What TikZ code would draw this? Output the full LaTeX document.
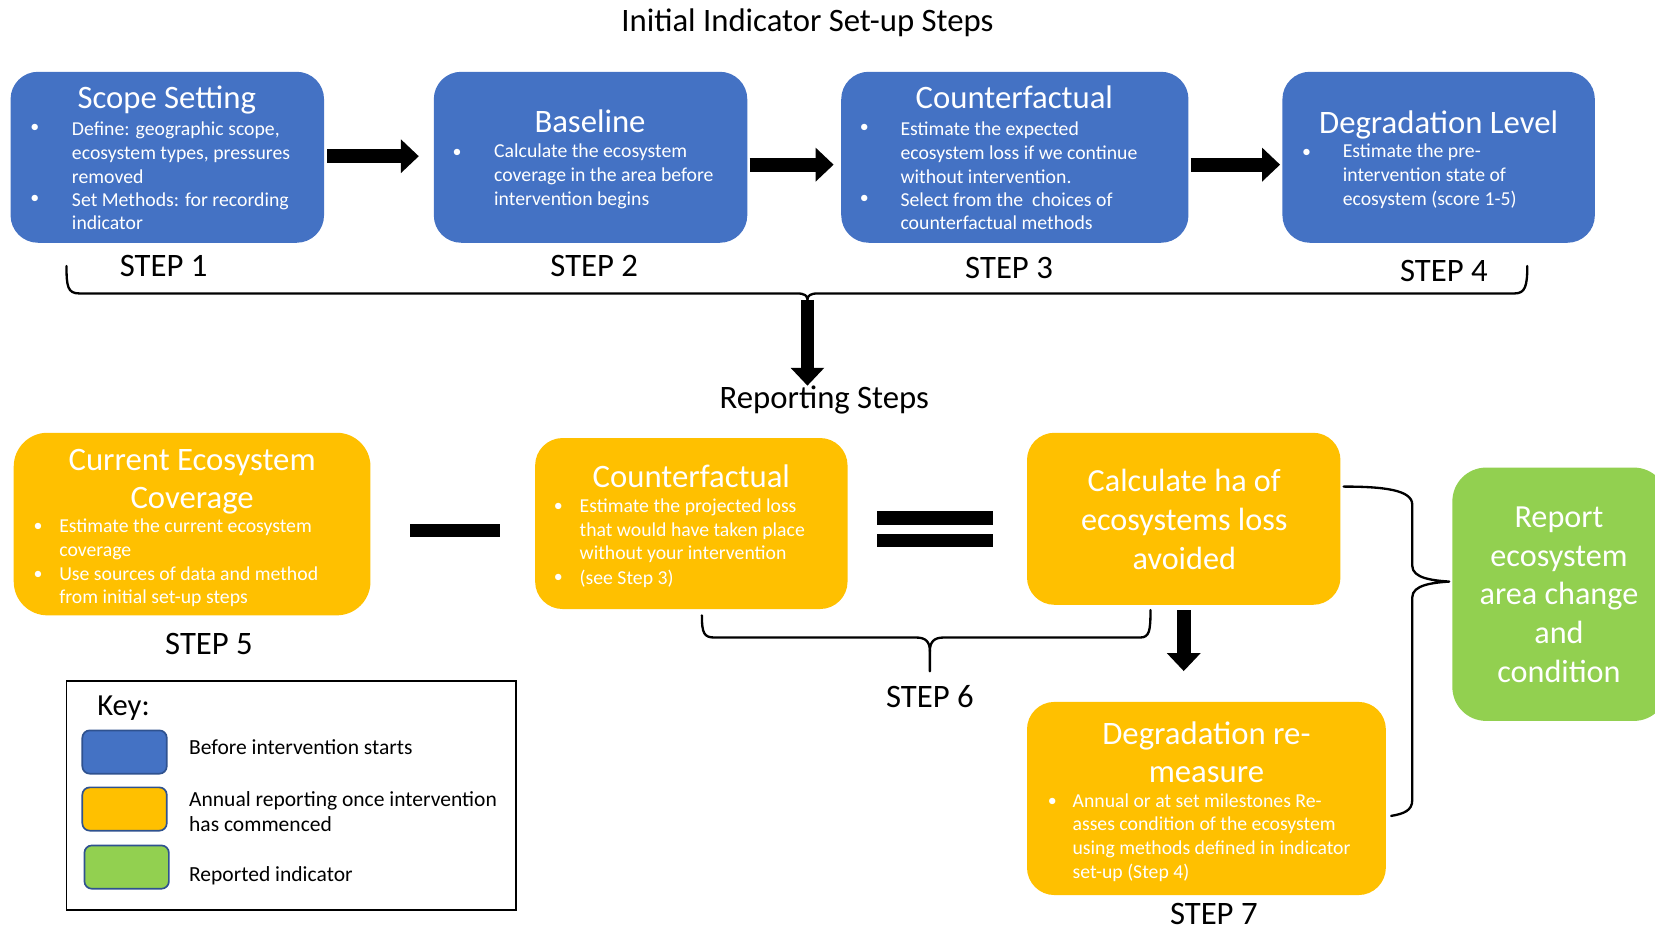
\documentclass[tikz,border=0pt]{standalone}
\usepackage{fontspec}
\setmainfont{Carlito}
\usetikzlibrary{arrows.meta}
\definecolor{cblue}{HTML}{4472C4}
\definecolor{cyellow}{HTML}{FFC000}
\definecolor{cgreen}{HTML}{92D050}
\definecolor{cedge}{HTML}{2F528F}
\tikzset{
  boxbase/.style={rectangle, rounded corners=26pt, inner sep=0pt},
  bluebox/.style={boxbase, fill=cblue},
  yellowbox/.style={boxbase, fill=cyellow},
  greenbox/.style={boxbase, fill=cgreen},
  swatch/.style={rectangle, rounded corners=7pt, draw=cedge, line width=1.6pt, minimum width=80pt, minimum height=41pt, inner sep=0pt},
  ttl/.style={text=white, font=\fontsize{31}{36}\selectfont, align=center, inner sep=0pt},
  bigtxt/.style={text=white, font=\fontsize{30.5}{36.7}\selectfont, align=center, inner sep=0pt},
  body/.style={text=white, font=\fontsize{18.7}{22.5}\selectfont, align=left, anchor=west, inner sep=0pt},
  bul/.style={text=white, font=\fontsize{17}{22.5}\selectfont, inner sep=0pt},
  steplbl/.style={font=\fontsize{31}{32}\selectfont, inner sep=0pt},
  heading/.style={font=\fontsize{31}{32}\selectfont, inner sep=0pt},
  keytxt/.style={font=\fontsize{20.4}{24}\selectfont, align=left, anchor=west, inner sep=0pt},
  blockarrow/.style={line width=13pt, -{Triangle[length=17pt,width=31pt]}},
  bracepath/.style={line width=2.2pt, line cap=round, line join=round},
}
\begin{document}
\begin{tikzpicture}[x=1pt,y=-1pt]
\useasboundingbox (0,0) rectangle (1568,881);
\clip (0,0) rectangle (1568,881);

% ---------- headings ----------
\node[heading] (h1) at (765,22) {Initial Indicator Set-up Steps};
\node[heading] (h2) at (781,379) {Reporting Steps};

% ---------- blue boxes ----------
\node[bluebox, minimum width=297pt, minimum height=162pt] (b1) at (158.5,149) {};
\node[bluebox, minimum width=297pt, minimum height=162pt] (b2) at (559.5,149) {};
\node[bluebox, minimum width=329pt, minimum height=162pt] (b3) at (961.5,149) {};
\node[bluebox, minimum width=296pt, minimum height=162pt] (b4) at (1363,149) {};

\node[ttl] (t1) at (158,95) {Scope Setting};
\node[bul] (u11) at (33,122) {•};
\node[body] (x11) at (68,144.5) {Define: geographic scope,\\ecosystem types, pressures\\removed};
\node[bul] (u12) at (33,189) {•};
\node[body] (x12) at (68,200) {Set Methods: for recording\\indicator};

\node[ttl] (t2) at (559,115) {Baseline};
\node[bul] (u21) at (433,145) {•};
\node[body] (x21) at (468,167) {Calculate the ecosystem\\coverage in the area before\\intervention begins};

\node[ttl] (t3) at (961,92) {Counterfactual};
\node[bul] (u31) at (819,122) {•};
\node[body] (x31) at (853,144.5) {Estimate the expected\\ecosystem loss if we continue\\without intervention.};
\node[bul] (u32) at (819,189) {•};
\node[body] (x32) at (853,200) {Select from the \ choices of\\counterfactual methods};

\node[ttl] (t4) at (1363,118) {Degradation Level};
\node[bul] (u41) at (1238,145) {•};
\node[body] (x41) at (1272,167) {Estimate the pre-\\intervention state of\\ecosystem (score 1-5)};

% arrows between blue boxes
\draw[blockarrow] ([yshift=1pt,xshift=3pt]b1.east) -- ([yshift=1pt,xshift=-14pt]b2.west);
\draw[blockarrow] ([yshift=-7pt,xshift=2pt]b2.east) -- ([yshift=-7pt,xshift=-7pt]b3.west);
\draw[blockarrow] ([yshift=-7pt,xshift=2pt]b3.east) -- ([yshift=-7pt,xshift=-2pt]b4.west);

% step labels
\node[steplbl] (s1) at (155,252) {STEP 1};
\node[steplbl] (s2) at (563,252) {STEP 2};
\node[steplbl] (s3) at (956,254) {STEP 3};
\node[steplbl] (s4) at (1368,257) {STEP 4};

% top brace
\coordinate (bracetip) at (765,284);
\draw[bracepath] (63,252) .. controls (63,271) and (64,278) .. (75,278) -- (755,278)
  .. controls (762,278) and (765,280) .. (bracetip)
  .. controls (765,280) and (768,278) .. (775,278) -- (1435,278)
  .. controls (1445,278) and (1447,271) .. (1447,252);
\draw[blockarrow] (bracetip) -- (bracetip |- h2.north);

% ---------- yellow boxes ----------
\node[yellowbox, rounded corners=32pt, minimum width=338pt, minimum height=173pt] (y5) at (182,496.5) {};
\node[ttl] (t5) at (182,456) {Current Ecosystem\\Coverage};
\node[bul] (u51) at (36,500) {•};
\node[body] (x51) at (56,511) {Estimate the current ecosystem\\coverage};
\node[bul] (u52) at (36,545) {•};
\node[body] (x52) at (56,556) {Use sources of data and method\\from initial set-up steps};

\node[yellowbox, minimum width=296pt, minimum height=162pt] (y6) at (655,496) {};
\node[ttl] (t6) at (655,451) {Counterfactual};
\node[bul] (u61) at (529,481) {•};
\node[body] (x61) at (549,503) {Estimate the projected loss\\that would have taken place\\without your intervention};
\node[bul] (u62) at (529,548) {•};
\node[body] (x62) at (549,548) {(see Step 3)};

\node[yellowbox, minimum width=297pt, minimum height=163pt] (y7) at (1121.5,491.5) {};
\node[bigtxt] (t7) at (1122,492) {Calculate ha of\\ecosystems loss\\avoided};

\node[yellowbox, minimum width=340pt, minimum height=183pt] (y8) at (1143,756.5) {};
\node[ttl] (t8) at (1143,713) {Degradation re-\\measure};
\node[bul] (u81) at (997,760) {•};
\node[body] (x81) at (1016,793.5) {Annual or at set milestones Re-\\asses condition of the ecosystem\\using methods defined in indicator\\set-up (Step 4)};

% green box
\node[greenbox, rounded corners=32pt, minimum width=204pt, minimum height=240pt] (g1) at (1478,563) {};
\node[bigtxt] (tg) at (1477,563.5) {Report\\ecosystem\\area change\\and\\condition};

% minus and equals
\node[rectangle, fill=black, minimum width=86pt, minimum height=13pt, inner sep=0pt] (minus) at (431,502.5) {};
\node[rectangle, fill=black, minimum width=110pt, minimum height=13pt, inner sep=0pt] (eq1) at (886,490.5) {};
\node[rectangle, fill=black, minimum width=110pt, minimum height=13pt, inner sep=0pt] (eq2) at (886,512) {};

% arrow calc -> degradation
\draw[blockarrow] ([yshift=-5pt]y7.south) -- ([yshift=29pt]y7.south |- y8.north);

% step labels lower
\node[steplbl] (s5) at (198,610) {STEP 5};
\node[steplbl] (s6) at (881,660) {STEP 6};
\node[steplbl] (s7) at (1150,866) {STEP 7};

% step 6 brace
\coordinate (b6tip) at (881,636);
\draw[bracepath] (665,583) .. controls (665,600) and (667,604) .. (677,604) -- (868,604)
  .. controls (877,604) and (881,608) .. (881,617) -- (b6tip);
\draw[bracepath] (881,617) .. controls (881,608) and (885,604) .. (894,604) -- (1080,604)
  .. controls (1089,604) and (1090,598) .. (1090,578);

% right brace
\coordinate (rtip) at (1373,551);
\draw[bracepath] (1273,461) .. controls (1310,461) and (1338,464) .. (1338,478) -- (1338,536)
  .. controls (1338,548) and (1358,550) .. (rtip)
  .. controls (1358,552) and (1338,554) .. (1338,566) -- (1338,758)
  .. controls (1338,768) and (1330,771) .. (1318,773);

% ---------- key ----------
\node[rectangle, draw=black, line width=1.6pt, minimum width=426pt, minimum height=217pt, inner sep=0pt] (key) at (276,753.5) {};
\node[font=\fontsize{29}{30}\selectfont, inner sep=0pt] (keyl) at (117,671) {Key:};
\node[swatch, fill=cblue] (k1) at (118,712.5) {};
\node[swatch, fill=cyellow] (k2) at (118,766.5) {};
\node[swatch, fill=cgreen] (k3) at (120,821.5) {};
\node[keytxt] (kt1) at (179,708) {Before intervention starts};
\node[keytxt] (kt2) at (179,769) {Annual reporting once intervention\\has commenced};
\node[keytxt] (kt3) at (179,830) {Reported indicator};
\end{tikzpicture}
\end{document}
